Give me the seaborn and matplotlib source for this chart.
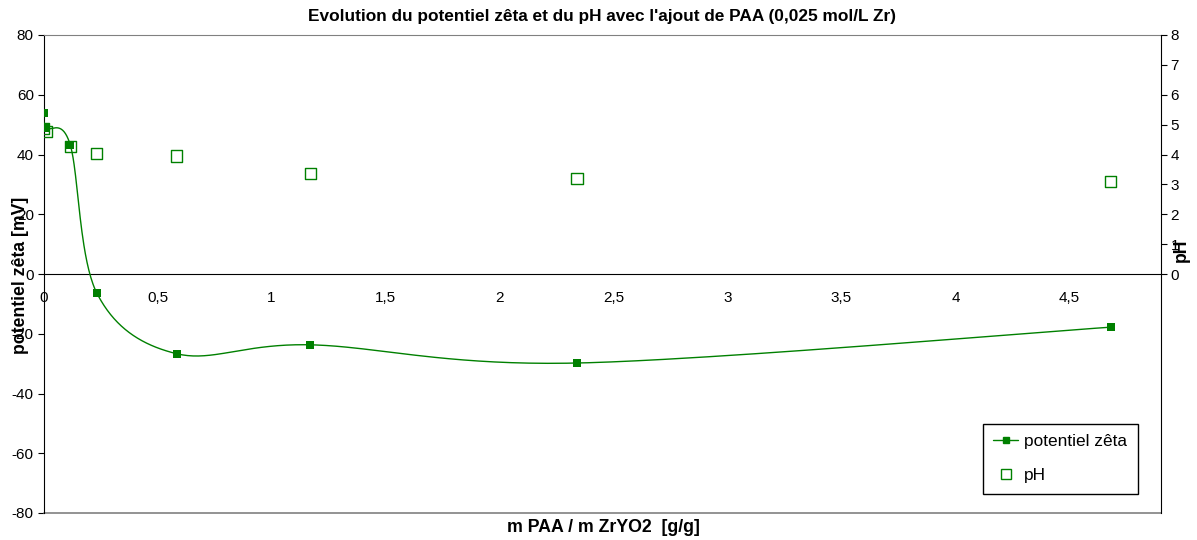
import numpy as np
import pandas as pd
import matplotlib
matplotlib.use("Agg")
import matplotlib.pyplot as plt
from matplotlib.lines import Line2D
import seaborn as sns

# ---- data ----
x_ratio = [0.0, 0.012, 0.117, 0.234, 0.585, 1.17, 2.34, 4.68]
zeta_mv = [54.0, 49.0, 43.3, -6.4, -26.7, -23.7, -29.8, -17.8]
ph_values = [4.87, 4.77, 4.27, 4.02, 3.95, 3.36, 3.21, 3.09]
x_ticks = [0, 0.5, 1, 1.5, 2, 2.5, 3, 3.5, 4, 4.5]
x_tick_labels = ["0", "0,5", "1", "1,5", "2", "2,5", "3", "3,5", "4", "4,5"]
y_ticks = [80, 60, 40, 20, 0, -20, -40, -60, -80]
y_tick_labels = ["80", "60", "40", "20", "0", "-20", "-40", "-60", "-80"]
ph_ticks = [0, 1, 2, 3, 4, 5, 6, 7, 8]
ph_tick_labels = ["0", "1", "2", "3", "4", "5", "6", "7", "8"]

sns.set_style("white")
plt.rcParams["font.family"] = ["Liberation Sans", "DejaVu Sans"]
plt.rcParams["axes.unicode_minus"] = False
plt.rcParams["text.color"] = "black"
plt.rcParams["xtick.color"] = "black"
plt.rcParams["ytick.color"] = "black"

GREEN = "#008000"

def smooth_curve(xs, ys, n=40):
    """Excel-like smoothed line: Catmull-Rom Bezier between data points."""
    pts = np.column_stack([xs, ys]).astype(float)
    out = []
    m = len(pts)
    for i in range(m - 1):
        p0 = pts[i - 1] if i > 0 else pts[i]
        p1 = pts[i]
        p2 = pts[i + 1]
        p3 = pts[i + 2] if i + 2 < m else pts[i + 1]
        c1 = p1 + (p2 - p0) / 6.0
        c2 = p2 - (p3 - p1) / 6.0
        t = np.linspace(0, 1, n)[:, None]
        seg = ((1 - t) ** 3) * p1 + 3 * ((1 - t) ** 2) * t * c1 + 3 * (1 - t) * t ** 2 * c2 + t ** 3 * p2
        out.append(seg if i == 0 else seg[1:])
    arr = np.vstack(out)
    return arr[:, 0], arr[:, 1]

df = pd.DataFrame({"x": x_ratio, "zeta": zeta_mv, "ph": ph_values})

fig = plt.figure(figsize=(11.97, 5.40), dpi=100)
ax = fig.add_axes([43.5 / 1197, 1 - 513 / 540, (1160.7 - 43.5) / 1197, (513 - 35) / 540])

sx, sy = smooth_curve(df["x"].values, df["zeta"].values)
ax.plot(sx, sy, color=GREEN, lw=1.0, zorder=3)
sns.scatterplot(data=df, x="x", y="zeta", ax=ax, marker="s", s=36, color=GREEN,
                edgecolor=GREEN, linewidth=0, zorder=4, legend=False)

ax.set_xlim(0, 4.9)
ax.set_ylim(-80, 80)
ax.set_yticks(y_ticks)
ax.set_yticklabels(y_tick_labels, fontsize=11)
ax.set_xticks(x_ticks)
ax.set_xticklabels(x_tick_labels, fontsize=11)
ax.spines["bottom"].set_position(("data", 0))
ax.spines["bottom"].set_color("black")
ax.spines["left"].set_color("black")
ax.spines["right"].set_visible(False)
ax.spines["top"].set_color("#808080")
ax.axhline(-80, color="#808080", lw=1.2, clip_on=False, zorder=1)
ax.tick_params(axis="x", direction="in", length=4, pad=12, colors="black", labelsize=11)
ax.tick_params(axis="y", direction="out", length=4, pad=3, colors="black", labelsize=11, left=True)
ax.set_xlabel("")
ax.set_ylabel("")

ax2 = ax.twinx()
sns.scatterplot(data=df, x="x", y="ph", ax=ax2, marker="s", s=64, facecolor="none",
                edgecolor=GREEN, linewidth=1.0, zorder=4, legend=False)
ax2.set_ylim(-8, 8)
ax2.set_yticks(ph_ticks)
ax2.set_yticklabels(ph_tick_labels, fontsize=11)
ax2.tick_params(axis="y", direction="out", length=4, pad=3, right=True, colors="black", labelsize=11)
for s in ["top", "bottom", "left"]:
    ax2.spines[s].set_visible(False)
ax2.spines["right"].set_color("black")
ax2.set_ylabel("")
ax2.set_xlim(0, 4.9)

fig.text(602 / 1197, 1 - 17 / 540, "Evolution du potentiel zêta et du pH avec l'ajout de PAA (0,025 mol/L Zr)",
         ha="center", va="center", fontsize=12.4, fontweight="bold")
fig.text(603 / 1197, 1 - 528 / 540, "m PAA / m ZrYO2  [g/g]", ha="center", va="center",
         fontsize=12.8, fontweight="bold")
fig.text(21 / 1197, 1 - 275 / 540, "potentiel zêta [mV]", ha="center", va="center",
         rotation=90, fontsize=12.7, fontweight="bold")
fig.text(1181 / 1197, 1 - 250 / 540, "pH", ha="center", va="center",
         rotation=90, fontsize=12.7, fontweight="bold")

handles = [
    Line2D([0], [0], color=GREEN, lw=1.0, marker="s", markersize=5, markerfacecolor=GREEN,
           markeredgecolor=GREEN),
    Line2D([0], [0], color="none", marker="s", markersize=7, markerfacecolor="none",
           markeredgecolor=GREEN, markeredgewidth=1.0),
]
leg = ax2.legend(handles, ["potentiel zêta", "pH"], loc="upper left",
                 bbox_to_anchor=(983 / 1197, 1 - 424 / 540), bbox_transform=fig.transFigure,
                 frameon=True, fancybox=False, framealpha=1, edgecolor="black",
                 fontsize=12.4, handlelength=1.45, handletextpad=0.35, labelspacing=1.1,
                 borderpad=0.6, borderaxespad=0)
leg.get_frame().set_linewidth(1.0)

fig.savefig("out.png", dpi=100)
